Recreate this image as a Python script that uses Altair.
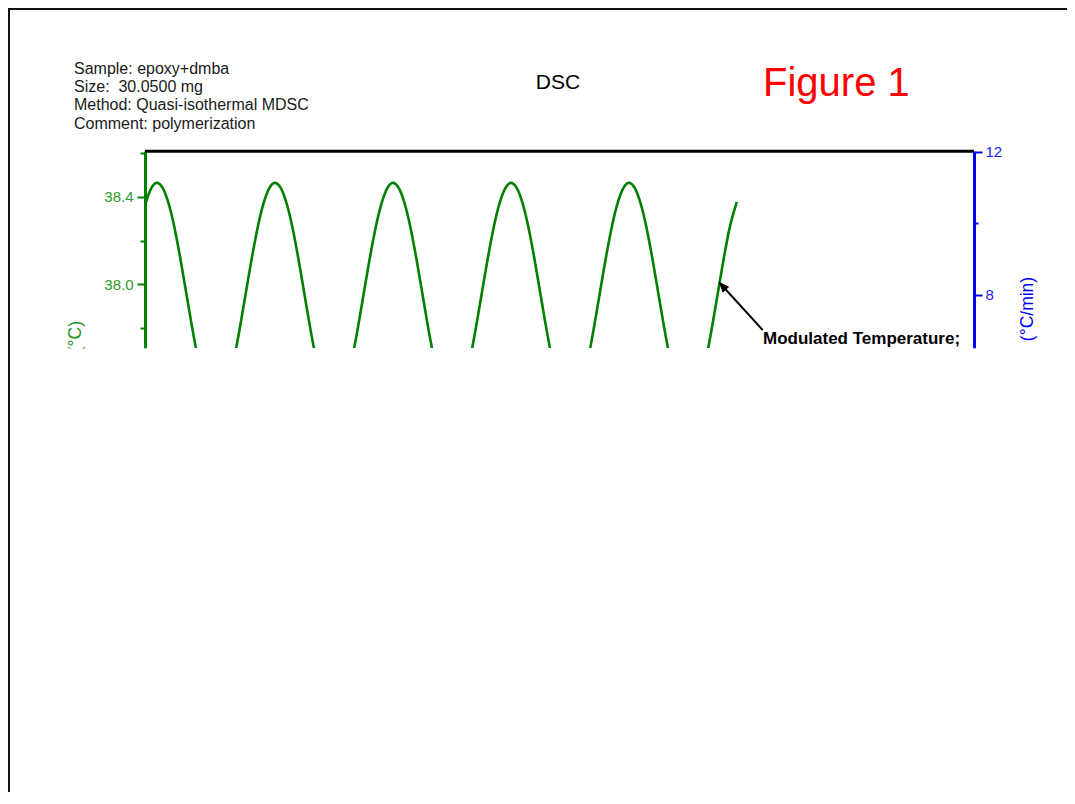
import altair as alt
import pandas as pd

# ---------------- data ----------------
time_min = [
    0.00, 0.05, 0.10, 0.15, 0.20, 0.25, 0.30, 0.35, 0.40, 0.45,
    0.50, 0.55, 0.60, 0.65, 0.70, 0.75, 0.80, 0.85, 0.90, 0.95,
    1.00, 1.05, 1.10, 1.15, 1.20, 1.25, 1.30, 1.35, 1.40, 1.45,
    1.50, 1.55, 1.60, 1.65, 1.70, 1.75, 1.80, 1.85, 1.90, 1.95,
    2.00, 2.05, 2.10, 2.15, 2.20, 2.25, 2.30, 2.35, 2.40, 2.45,
    2.50, 2.55, 2.60, 2.65, 2.70, 2.75, 2.80, 2.85, 2.90, 2.95,
    3.00, 3.05, 3.10, 3.15, 3.20, 3.25, 3.30, 3.35, 3.40, 3.45,
    3.50, 3.55, 3.60, 3.65, 3.70, 3.75, 3.80, 3.85, 3.90, 3.95,
    4.00, 4.05, 4.10, 4.15, 4.20, 4.25, 4.30, 4.35, 4.40, 4.45,
    4.50, 4.55, 4.60, 4.65, 4.70, 4.75, 4.80, 4.85, 4.90, 4.95,
    5.015,
]
mod_temp_c = [
    38.362, 38.437, 38.464, 38.441, 38.370, 38.259, 38.117, 37.959, 37.801, 37.658,
    37.544, 37.469, 37.442, 37.465, 37.535, 37.647, 37.789, 37.947, 38.105, 38.248,
    38.362, 38.437, 38.464, 38.441, 38.370, 38.259, 38.117, 37.959, 37.801, 37.658,
    37.544, 37.469, 37.442, 37.465, 37.535, 37.647, 37.789, 37.947, 38.105, 38.248,
    38.362, 38.437, 38.464, 38.441, 38.370, 38.259, 38.117, 37.959, 37.801, 37.658,
    37.544, 37.469, 37.442, 37.465, 37.535, 37.647, 37.789, 37.947, 38.105, 38.248,
    38.362, 38.437, 38.464, 38.441, 38.370, 38.259, 38.117, 37.959, 37.801, 37.658,
    37.544, 37.469, 37.442, 37.465, 37.535, 37.647, 37.789, 37.947, 38.105, 38.248,
    38.362, 38.437, 38.464, 38.441, 38.370, 38.259, 38.117, 37.959, 37.801, 37.658,
    37.544, 37.469, 37.442, 37.465, 37.535, 37.647, 37.789, 37.947, 38.105, 38.248,
    38.377,
]
temp_axis_ticks = [37.8, 38.0, 38.2, 38.4, 38.6]
temp_axis_labels = [38.0, 38.4]
rate_axis_ticks = [8, 10, 12]
rate_axis_labels = [8, 12]

temp_domain = [37.709, 38.610]
rate_domain = [6.52, 12.02]
time_domain = [0.0, 7.025]

arrow_time = [4.873, 5.235]      # tip, tail
arrow_temp = [38.005, 37.791]

info_lines = [
    "Sample: epoxy+dmba",
    "Size: \u00a030.0500 mg",
    "Method: Quasi-isothermal MDSC",
    "Comment: polymerization",
]
title_text = "DSC"
figure_text = "Figure 1"
annotation_text = "Modulated Temperature;"
left_title = "(°C)"
right_title = "(°C/min)"

# ---------------- layout ----------------
W, H = 829, 197
PAD = {"left": 137, "top": 143, "right": 93, "bottom": 444}
FONT = "Liberation Sans"
GREEN = "#008000"
BLUE = "#0000ff"

df = pd.DataFrame({"time": time_min, "temp": mod_temp_c})
arrow_df = pd.DataFrame({"t1": [arrow_time[0]], "v1": [arrow_temp[0]],
                         "t2": [arrow_time[1]], "v2": [arrow_temp[1]]})
blank = pd.DataFrame({"k": [0]})

x_scale = alt.Scale(domain=time_domain, nice=False, zero=False)
yl_scale = alt.Scale(domain=temp_domain, nice=False, zero=False)
yr_scale = alt.Scale(domain=rate_domain, nice=False, zero=False)

lab_test = " || ".join(f"abs(datum.value - {v}) < 0.01" for v in temp_axis_labels)
left_axis = alt.Axis(
    orient="left", values=temp_axis_ticks, title=None, grid=False,
    domainColor=GREEN, domainWidth=3, tickColor=GREEN, tickWidth=2,
    tickSize={"condition": {"test": lab_test, "value": 8}, "value": 5},
    labelExpr=f"({lab_test}) ? format(datum.value, '.1f') : ''",
    labelColor="#2e9b2e", labelFont=FONT, labelFontSize=15, labelPadding=4,
    labelOverlap=False,
)
rlab_test = " || ".join(f"datum.value == {v}" for v in rate_axis_labels)
right_axis = alt.Axis(
    orient="right", values=rate_axis_ticks, title=None, grid=False,
    domainColor=BLUE, domainWidth=3, tickColor=BLUE, tickWidth=2,
    tickSize={"condition": {"test": rlab_test, "value": 8}, "value": 4},
    labelExpr=f"({rlab_test}) ? format(datum.value, 'd') : ''",
    labelColor="#1a1aff", labelFont=FONT, labelFontSize=15, labelPadding=3,
    labelOverlap=False,
)

line = alt.Chart(df).mark_line(
    color=GREEN, strokeWidth=2.6, interpolate="monotone", clip=True
).encode(
    x=alt.X("time:Q", scale=x_scale, axis=None),
    y=alt.Y("temp:Q", scale=yl_scale, axis=left_axis),
)

arrow = alt.Chart(arrow_df).mark_rule(color="black", strokeWidth=2).encode(
    x=alt.X("t1:Q", scale=x_scale, axis=None),
    y=alt.Y("v1:Q", scale=yl_scale, axis=None),
    x2="t2:Q", y2="v2:Q",
)
head = alt.Chart(arrow_df).mark_point(
    shape="M -0.4 1 L 0 0 L 0.4 1 Z", filled=True, fill="black", stroke="black",
    strokeWidth=1.5, size=260, angle=317.6, opacity=1,
).encode(
    x=alt.X("t1:Q", scale=x_scale, axis=None),
    y=alt.Y("v1:Q", scale=yl_scale, axis=None),
)

rate = alt.Chart(pd.DataFrame({"rate": rate_axis_labels})).mark_point(opacity=0).encode(
    y=alt.Y("rate:Q", scale=yr_scale, axis=right_axis),
)


def txt(text, x, y, size, color="black", align="left", weight="normal", angle=0):
    return alt.Chart(blank).mark_text(
        text=text, align=align, baseline="middle", fontSize=size, color=color,
        fontWeight=weight, angle=angle, font=FONT,
    ).encode(x=alt.value(x), y=alt.value(y))


texts = [txt(s, -71, -82.3 + 18.3 * i, 16, color="#1a1a1a") for i, s in enumerate(info_lines)]
texts += [
    txt(title_text, 413, -67.7, 21, align="center"),
    txt(figure_text, 618, -66.8, 40, color="#ff0000"),
    txt(annotation_text, 618, 188, 17, weight="bold"),
    txt(left_title, -69.5, 170, 17.5, color="#1f8f1f", align="right", angle=270),
    txt(right_title, 883, 158, 17.5, color=BLUE, align="center", angle=270),
]

top_frame = alt.Chart(blank).mark_rule(color="black", strokeWidth=3).encode(
    x=alt.value(0), x2=alt.value(W), y=alt.value(0.3)
)
mask = alt.Chart(blank).mark_rect(color="white").encode(
    x=alt.value(-134), x2=alt.value(930), y=alt.value(H + 0.5), y2=alt.value(660)
)
border_top = alt.Chart(blank).mark_rule(color="#111111", strokeWidth=2).encode(
    x=alt.value(-137), x2=alt.value(930), y=alt.value(-142)
)
border_left = alt.Chart(blank).mark_rule(color="#111111", strokeWidth=2).encode(
    x=alt.value(-136), y=alt.value(-143), y2=alt.value(660)
)

chart = alt.layer(
    line, arrow, head, rate, *texts, top_frame, mask, border_top, border_left
).resolve_scale(y="independent").properties(
    width=W, height=H,
    autosize=alt.AutoSizeParams(type="none"),
    padding=PAD, background="white",
).configure_view(stroke=None)

chart.save("out.html", embed_options={"renderer": "svg", "actions": False})
